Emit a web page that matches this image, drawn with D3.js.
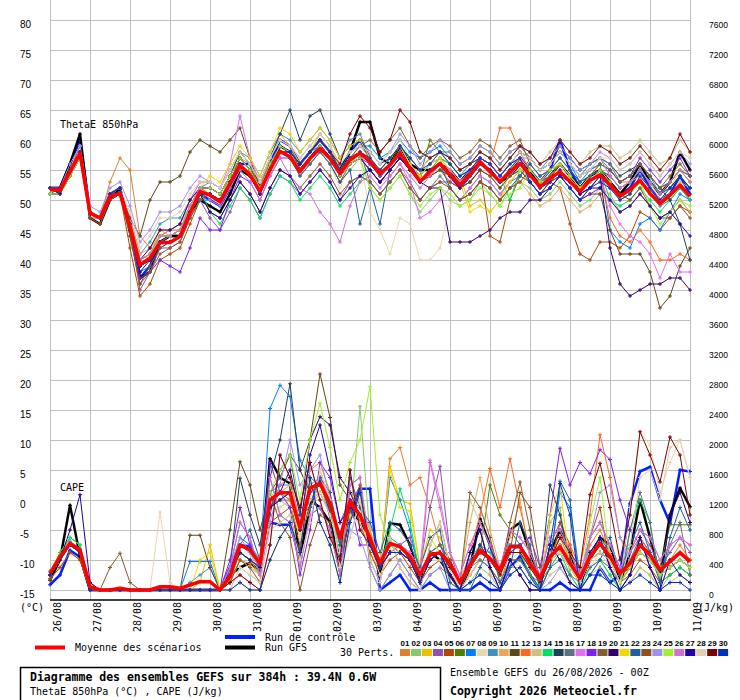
<!DOCTYPE html>
<html>
<head>
<meta charset="utf-8">
<script src="https://cdn.jsdelivr.net/npm/d3@7"></script>
<style>
  body { margin: 0; background: #fff; }
  svg text { font-family: "DejaVu Sans Mono", monospace; fill: #000; }
</style>
</head>
<body>
<svg id="chart" width="740" height="700"></svg>
<script>
// 65 steps of 6h from 26/08 00Z (384h)
const dayLabels = ['26/08','27/08','28/08','29/08','30/08','31/08','01/09','02/09','03/09',
  '04/09','05/09','06/09','07/09','08/09','09/09','10/09','11/09'];
const leftTicks = [-15,-10,-5,0,5,10,15,20,25,30,35,40,45,50,55,60,65,70,75,80];
const rightTicks = [0,400,800,1200,1600,2000,2400,2800,3200,3600,4000,4400,4800,5200,5600,6000,6400,6800,7200,7600];

const pertColors = ['#e08030','#88c870','#f0c000','#9050b0','#b04808','#508000','#0080ff','#e8d8b0',
  '#4090c0','#e8a858','#604818','#ff6820','#d0c080','#00e060','#204058','#607080','#e070f0','#8020f0',
  '#806030','#300070','#f0d800','#2060a0','#905020','#a090f0','#a0f030','#d070d0','#2000a0','#e0d0b0',
  '#800000','#0030c0'];

// ThetaE 850hPa (°C)
const thetaMean = [51.7,51.6,54.7,57.8,47.8,47.0,50.6,51.1, 45.6,39.2,40.3,42.9,42.9,43.9,47.8,51.4,
  50.8,49.7,52.8,55.8,54.2,51.4,55.0,58.1, 57.2,54.7,56.9,58.6,56.9,54.4,56.7,57.8,
  56.4,54.4,55.8,57.8,55.3,53.1,54.7,56.1, 54.2,52.5,54.2,56.4,54.7,53.1,54.7,56.1,
  54.2,52.2,53.6,54.7,53.1,51.4,53.3,54.2, 52.5,50.6,51.7,53.3,51.1,49.4,50.8,52.5, 50.6];
const thetaCtrl = [52,52,56,60,48,47,51,52, 45,37,39,43,44,44,48,51, 50,49,52,56,56,52,56,60,
  59,56,58,60,58,55,58,60, 57,54,56,59,56,53,55,56, 54,52,54,56,55,53,55,57,
  55,53,55,60,55,52,54,55, 53,51,52,55,52,50,51,54, 51];
const thetaGfs = [52,52,56,61,47,46,50,52, 45,37,38,43,44,44,48,50, 49,48,51,55,54,52,55,59,
  58,55,57,59,57,55,58,63, 63,57,56,59,56,55,55,56, 55,53,55,56,55,53,54,56,
  55,52,54,56,54,52,54,55, 53,51,53,56,53,51,53,58, 55];

const thetaPerts = [
  [52,52,55,58,48,47,53,57, 55,44,42,44,45,45,49,52, 52,51,54,57,56,53,56,59, 58,56,58,60,58,55,57,59, 57,55,57,59,56,54,56,57, 55,53,54,56,55,53,55,57, 55,53,55,56,54,52,54,56, 55,53,53,55,53,51,53,55, 53],
  [51,51,54,57,48,47,51,52, 47,40,41,44,45,46,49,52, 51,50,54,57,55,52,56,58, 57,55,56,58,56,53,55,57, 52,50,52,54,51,48,50,52, 50,49,50,53,51,49,52,53, 52,50,51,53,51,49,50,52, 51,48,49,51,49,47,48,50, 48],
  [52,51,55,59,48,47,51,52, 46,39,41,45,44,45,49,52, 52,51,54,58,56,52,57,61, 59,56,58,61,59,55,57,58, 56,55,57,59,56,54,56,57, 56,54,49,50,48,50,55,57, 55,53,54,56,54,52,53,55, 54,52,53,54,52,50,51,53, 52],
  [52,51,55,59,48,47,51,52, 45,35,38,42,42,43,47,50, 47,45,48,52,50,47,51,54, 53,51,53,55,53,50,53,54, 53,51,53,55,52,50,52,53, 53,52,53,55,54,52,54,55, 53,51,53,54,52,50,52,54, 52,50,51,53,51,49,50,52, 50],
  [52,52,54,57,47,47,50,51, 42,34,36,40,41,42,46,50, 51,50,53,56,54,51,55,58, 57,54,56,58,56,53,56,57, 55,53,55,57,55,53,54,55, 53,52,53,55,44,43,50,54, 53,51,53,52,46,41,40,43, 43,42,44,48,47,45,47,49, 48],
  [51,51,54,57,48,47,51,51, 46,40,41,44,44,45,49,52, 52,51,54,57,55,53,56,59, 58,56,58,60,58,55,57,58, 57,54,56,59,56,54,60,58, 58,56,57,59,58,56,58,59, 57,55,56,58,56,54,55,56, 55,53,54,56,54,52,53,55, 54],
  [51,52,55,58,48,47,50,51, 45,38,39,42,43,44,47,50, 50,49,53,56,54,51,55,58, 58,56,58,59,57,55,58,59, 59,57,58,60,58,57,58,59, 57,55,56,57,56,54,56,58, 57,55,56,58,56,53,55,56, 45,43,42,46,47,45,48,51, 50],
  [51,51,54,57,48,47,51,51, 46,40,41,44,44,45,49,52, 52,51,54,57,55,52,55,58, 57,54,56,58,56,52,56,57, 48,45,41,47,46,40,40,42, 49,52,54,56,54,52,54,56, 54,52,54,56,53,51,53,55, 54,52,53,55,53,50,52,54, 52],
  [52,52,55,58,48,47,51,52, 47,41,43,46,47,47,50,52, 53,52,55,58,57,54,58,61, 60,58,60,62,60,57,60,61, 57,55,57,59,56,54,56,57, 56,54,56,58,57,55,57,59, 57,55,57,59,57,55,56,57, 55,53,54,56,54,51,52,54, 52],
  [52,52,55,57,48,47,51,52, 47,41,42,45,45,46,50,53, 53,52,55,58,56,53,57,60, 59,56,58,60,58,55,57,58, 56,54,56,58,55,53,55,57, 52,50,51,53,52,50,52,53, 51,49,50,52,50,48,49,51, 50,48,49,51,49,47,48,50, 48],
  [51,51,54,57,48,47,51,51, 47,44,50,53,53,54,58,60, 59,58,60,62,57,52,56,59, 58,55,57,59,57,54,56,57, 55,53,55,57,55,53,54,55, 54,52,53,55,54,52,54,55, 53,51,53,54,52,50,51,51, 45,41,41,41,38,32,34,39, 42],
  [52,52,55,58,48,47,51,52, 46,40,41,43,44,45,49,52, 51,50,53,56,54,51,55,58, 57,55,57,59,57,54,56,58, 56,54,56,58,55,53,55,56, 55,53,55,57,56,62,62,58, 55,53,55,56,54,52,53,54, 47,44,43,45,43,40,40,41, 40],
  [51,51,54,58,48,47,51,52, 46,40,41,44,44,45,49,52, 52,51,54,57,55,52,56,59, 58,56,58,60,58,55,57,58, 57,55,57,59,57,55,57,58, 56,54,55,57,56,54,56,57, 58,56,58,60,58,56,58,59, 59,57,58,60,58,56,57,60, 58],
  [52,52,55,58,48,47,51,52, 46,39,40,44,44,45,49,52, 48,46,49,52,50,47,51,54, 53,50,52,54,52,49,51,53, 56,54,56,58,55,53,55,57, 56,54,55,57,56,54,50,55, 55,53,54,56,54,52,53,55, 50,49,50,52,50,48,50,52, 50],
  [52,52,55,58,48,47,51,52, 46,40,41,44,44,45,49,52, 52,51,54,58,56,53,57,61, 65,60,64,65,61,57,59,60, 58,56,57,59,57,55,57,58, 57,55,56,57,56,54,56,58, 57,55,56,59,57,55,56,57, 56,54,55,56,54,52,50,46, 40],
  [52,51,55,58,48,47,51,52, 46,39,40,43,44,45,48,51, 51,50,53,57,55,52,56,59, 58,55,57,59,57,54,57,58, 53,51,53,55,53,50,52,54, 52,50,52,54,53,51,53,54, 57,55,56,58,56,54,56,57, 56,53,54,56,54,52,53,55, 54],
  [52,52,55,58,48,47,51,52, 46,40,41,44,45,46,50,53, 53,52,56,64,57,53,56,59, 58,55,57,59,57,54,56,57, 55,53,54,56,53,47,48,50, 52,50,52,54,53,51,53,55, 54,52,53,55,53,51,52,54, 49,46,44,43,41,37,41,38, 38],
  [52,51,54,57,48,47,50,51, 45,37,38,40,39,38,42,47, 45,45,50,54,53,50,54,57, 57,55,57,59,57,54,56,57, 56,54,56,58,55,53,55,56, 55,53,55,57,56,54,56,57, 53,51,52,54,52,50,51,52, 55,53,54,57,55,53,55,57, 54],
  [51,51,54,57,47,46,50,51, 44,36,38,41,42,43,47,50, 51,50,53,57,55,52,56,59, 58,56,58,60,58,55,57,59, 60,58,60,62,59,57,59,60, 59,57,58,60,59,57,59,60, 56,54,55,57,55,53,54,56, 55,53,54,56,54,52,54,56, 54],
  [52,52,55,58,48,47,51,52, 46,40,42,45,45,46,50,52, 52,51,54,57,55,52,56,59, 58,55,57,59,57,54,56,57, 55,53,55,57,55,53,52,52, 43,43,43,44,45,47,48,48, 50,50,52,54,53,51,52,54, 42,36,34,35,36,36,37,37, 35],
  [52,52,55,58,48,47,51,52, 46,39,41,44,44,45,49,52, 54,53,56,59,57,54,58,62, 61,58,60,62,60,57,59,60, 57,55,57,59,56,54,56,57, 55,53,48,49,48,50,53,55, 54,52,54,56,54,52,54,55, 54,52,53,55,53,51,52,55, 53],
  [51,51,54,58,48,47,51,52, 46,39,40,43,43,44,48,51, 51,50,53,56,54,51,55,58, 57,54,56,58,56,53,55,46, 52,46,55,57,55,53,55,56, 52,50,51,53,52,50,52,54, 56,54,55,57,55,53,54,55, 54,52,53,55,53,51,52,54, 52],
  [52,52,55,58,47,46,50,51, 44,36,39,42,43,44,48,51, 48,47,50,53,51,48,52,55, 54,52,54,56,54,51,53,54, 53,51,53,55,52,50,52,53, 52,50,51,53,52,50,52,53, 55,53,54,56,54,52,53,55, 53,51,50,52,49,47,47,49, 47],
  [52,52,56,59,49,48,52,53, 49,43,45,48,48,49,52,54, 53,52,55,58,56,53,57,60, 59,57,59,61,59,56,58,59, 58,56,58,61,59,56,58,60, 58,56,57,59,58,56,58,59, 58,56,57,59,57,55,56,58, 57,55,56,58,56,54,56,58, 56],
  [51,51,54,57,48,47,51,51, 46,40,41,44,44,45,49,52, 52,51,54,57,55,52,56,59, 58,55,57,59,57,54,56,57, 52,50,52,54,51,49,51,52, 51,49,50,52,51,49,51,52, 55,53,55,56,54,52,53,55, 53,50,51,53,49,46,48,50, 49],
  [52,52,55,58,48,47,51,52, 46,40,41,44,44,45,49,52, 50,49,52,55,53,50,54,57, 54,52,51,48,46,43,49,53, 54,52,54,56,54,52,54,56, 55,53,55,57,56,54,56,57, 57,55,56,58,56,54,55,57, 54,52,53,55,53,51,53,55, 53],
  [52,51,55,58,48,47,51,51, 45,38,40,43,43,44,48,51, 48,47,50,53,51,48,52,55, 54,51,53,55,53,50,52,54, 55,53,55,57,55,53,55,56, 54,52,54,56,55,53,55,56, 54,52,53,55,53,51,52,52, 50,48,49,51,49,47,48,46, 44],
  [52,52,55,58,48,47,51,52, 48,42,44,47,47,48,51,53, 53,52,55,58,56,53,57,60, 59,57,59,61,59,56,58,59, 58,56,58,60,57,55,57,58, 57,55,56,58,57,55,56,58, 57,55,56,58,56,54,55,57, 57,55,56,58,56,54,56,58, 57],
  [52,52,55,58,48,47,51,52, 46,39,40,43,43,44,48,51, 51,50,53,56,54,51,55,58, 58,56,58,60,58,56,61,64, 62,58,60,65,63,58,57,58, 57,55,56,58,57,55,57,59, 58,56,57,60,58,56,57,59, 58,56,57,59,57,55,57,61, 58],
  [52,52,55,58,48,47,51,52, 46,39,40,43,43,44,48,51, 51,50,53,56,54,51,55,58, 58,56,58,60,58,55,57,58, 57,55,57,59,57,55,56,58, 56,54,55,57,56,54,56,57, 53,51,52,54,52,50,52,53, 52,50,51,54,52,50,52,54, 52]
];

// CAPE (J/kg)
const capeMean = [222,444,622,533,44,0,0,22, 0,0,0,44,44,22,67,111, 111,0,178,600,533,355,1200,1298,
  1298,822,1356,1422,1156,689,1178,1000, 689,356,622,578,444,200,467,498, 356,98,333,533,422,267,578,578,
  356,156,444,578,356,156,444,622, 444,222,356,600,467,267,378,498, 378];
const capeCtrl = [70,200,530,440,0,0,0,0, 0,0,0,0,0,0,0,0, 0,0,300,600,580,300,900,870,
  870,450,1100,1500,1000,400,1000,1350, 1350,0,100,200,0,0,100,0, 0,0,0,100,0,0,300,450,
  200,0,0,100,0,0,0,300, 100,200,1150,1580,1640,1200,890,1600, 1580];
const capeGfs = [130,400,1130,450,0,0,0,0, 0,0,0,0,0,0,0,0, 0,0,200,300,360,250,1750,1500,
  1420,400,1200,1100,900,300,1100,900, 700,200,890,870,600,100,500,400, 200,0,300,950,600,200,800,900,
  500,150,500,800,500,100,400,700, 600,100,500,1200,700,200,1000,1360, 1110];

const capePerts = [
  [150,300,500,400,0,0,0,0, 0,0,0,0,0,0,0,0, 0,0,100,400,350,200,1100,1400, 1500,900,1600,1700,1300,700,1300,1200, 800,300,1750,1900,1400,1500,1100,600, 300,0,200,400,300,100,500,600, 300,100,500,700,400,100,600,800, 500,200,300,700,500,200,400,600, 400],
  [200,400,700,600,50,0,0,0, 0,0,0,0,0,0,0,0, 0,0,100,500,400,300,1300,1200, 1100,700,1300,1400,1000,600,900,2450, 700,300,500,600,400,100,400,500, 200,0,100,300,200,0,300,400, 200,0,900,1100,200,0,200,400, 200,0,100,300,200,0,200,300, 200],
  [250,500,700,600,0,0,0,0, 0,0,0,0,0,0,0,100, 600,0,200,500,400,200,1000,1100, 1200,700,1100,1300,1000,500,1200,900, 500,300,1650,1200,1150,300,800,700, 400,100,300,500,400,200,500,600, 300,100,400,600,300,100,400,700, 500,200,300,500,400,200,300,400, 300],
  [200,400,600,500,0,0,0,0, 0,0,0,0,0,0,0,0, 0,0,200,600,500,300,1100,1200, 1300,800,1300,1400,1100,600,1100,1000, 600,300,500,600,700,300,1100,1650, 500,100,300,600,400,200,500,500, 300,100,600,900,500,200,700,900, 600,300,500,800,600,300,500,700, 500],
  [150,300,500,400,0,0,0,0, 0,0,0,0,0,0,0,0, 0,0,100,400,300,200,900,1000, 1100,600,1200,1300,1000,500,1000,900, 500,200,400,500,300,100,300,400, 200,0,200,400,300,100,400,400, 200,0,300,900,600,0,700,1100, 300,100,200,400,300,100,200,300, 200],
  [200,400,600,500,0,0,0,0, 0,0,0,0,0,0,0,0, 0,0,200,500,400,300,1200,1300, 1200,800,1300,1400,1100,700,1100,1000, 700,300,600,600,500,200,500,500, 300,100,300,500,1400,1000,800,600, 400,100,400,600,400,100,400,600, 400,200,300,600,500,300,870,870, 870],
  [200,400,600,500,0,0,0,0, 0,0,0,0,0,0,380,380, 380,0,300,700,600,400,2420,2730, 2580,1730,1500,1400,1100,600,1100,1000, 700,300,1500,1200,800,200,500,600, 300,100,300,600,400,200,600,600, 400,100,400,1300,1100,200,500,700, 500,200,400,700,500,200,400,500, 400],
  [200,400,600,500,0,0,0,0, 0,0,0,1040,100,0,0,0, 0,0,100,400,300,200,1000,1100, 1200,700,1200,1300,1000,500,1000,900, 600,200,500,500,400,100,400,400, 300,0,200,400,300,100,400,500, 300,100,300,500,300,100,300,500, 300,100,1100,2110,1930,1300,1700,2000, 1500],
  [250,450,650,550,50,0,0,0, 0,0,0,0,0,0,100,200, 300,0,200,600,500,300,1300,1400, 1400,900,1400,1500,1200,700,1200,1100, 700,400,700,600,500,200,500,600, 400,100,400,600,500,300,600,600, 400,200,500,600,400,200,500,600, 400,200,400,600,500,300,400,500, 400],
  [200,400,600,500,0,0,0,0, 0,0,0,0,0,0,0,0, 0,0,200,600,500,300,1200,1300, 1400,900,1400,1500,1200,700,1300,1100, 800,400,600,600,500,200,500,500, 400,100,900,1500,800,300,700,1200, 400,200,500,600,400,200,500,600, 500,200,400,600,500,300,400,500, 400],
  [200,400,600,500,0,0,0,0, 0,0,0,0,0,0,730,730, 300,0,800,1710,1400,800,1300,1500, 1800,1600,2000,2880,2300,1400,1200,1100, 700,300,600,500,400,100,400,500, 300,100,300,500,400,200,500,500, 300,100,400,500,300,100,400,500, 400,100,300,500,400,200,300,400, 300],
  [200,400,600,500,0,0,0,0, 0,0,0,0,0,0,0,0, 0,0,200,500,400,300,1100,1200, 1200,800,1300,1400,1100,700,1100,1000, 600,300,500,600,400,200,500,500, 300,100,500,1000,1620,1100,1750,1100, 500,200,400,700,600,300,1000,2070, 1500,700,500,700,500,200,400,500, 400],
  [200,400,600,500,0,0,0,0, 0,0,0,0,0,0,0,0, 0,0,0,300,200,100,800,900, 1000,400,900,1600,1200,300,700,1200, 600,300,500,500,400,100,400,500, 100,0,1200,900,200,100,300,300, 100,0,200,300,100,0,200,300, 100,0,100,300,200,0,100,200, 100],
  [200,500,700,600,0,0,0,0, 0,0,0,0,0,0,0,0, 0,0,200,500,400,300,1100,1200, 1300,800,1300,1400,1100,600,1100,1000, 600,300,800,1350,900,200,500,500, 300,100,300,500,400,200,500,500, 200,0,300,500,200,0,300,400, 200,0,800,1200,900,100,200,300, 200],
  [200,400,600,500,0,0,0,0, 0,0,0,0,0,0,0,0, 0,0,300,1490,1000,600,1500,2000, 2750,1600,1300,1400,1100,700,1200,1000, 700,300,600,600,400,200,500,500, 400,100,300,600,400,200,500,600, 400,100,1400,1000,400,100,400,600, 400,200,300,600,500,200,300,400, 300],
  [200,400,600,500,0,0,0,0, 0,0,0,0,0,0,0,0, 0,0,300,900,700,200,1500,1000, 900,300,1000,1100,800,200,1400,1500, 300,0,200,400,200,0,200,300, 200,0,300,400,300,100,400,400, 200,100,300,400,200,100,300,400, 300,100,800,1300,900,100,600,900, 200],
  [200,400,600,500,0,0,0,0, 0,0,0,0,0,0,0,0, 0,0,100,200,100,0,600,1800, 1500,1100,1700,1200,700,400,1600,800, 600,300,500,600,500,300,1730,1200, 500,200,600,900,600,300,800,700, 500,200,700,800,500,200,700,900, 600,300,500,800,700,400,600,700, 600],
  [200,400,600,500,0,0,0,0, 0,0,0,0,0,0,0,0, 0,0,400,1100,600,300,1700,1300, 1100,200,800,1700,1500,900,1200,600, 600,300,500,500,400,100,400,500, 300,100,300,500,400,200,500,600, 700,300,1000,1890,1400,1700,1550,1870, 1740,1200,800,600,400,200,300,400, 300],
  [200,400,600,500,100,0,300,490, 100,0,0,0,0,0,0,0, 0,0,200,500,400,300,1200,1300, 1300,800,1300,1400,1100,700,1100,1000, 700,300,600,500,400,200,500,600, 400,100,1300,1100,700,200,900,1440, 800,100,400,500,300,100,400,500, 400,200,300,500,400,200,300,400, 300],
  [200,400,600,500,0,0,0,0, 0,0,0,0,0,0,0,0, 0,0,200,500,400,300,1100,1300, 1600,1000,2000,2310,2200,1500,1300,1000, 600,300,500,500,400,100,400,500, 200,0,500,800,300,0,400,200, 0,0,600,400,100,0,500,700, 300,0,200,700,300,0,1000,1300, 900],
  [200,400,600,500,0,0,0,0, 0,0,0,0,0,0,0,400, 500,0,0,100,0,0,400,700, 900,500,1500,900,600,100,900,1300, 600,300,1600,1100,1050,300,700,500, 300,100,300,500,400,200,500,500, 300,100,1000,1400,300,100,400,500, 400,100,300,500,400,200,300,400, 300],
  [200,400,600,500,0,0,0,0, 0,0,0,0,0,0,0,0, 0,0,200,600,800,400,1000,1600, 1800,1000,1100,1500,1300,600,1500,1100, 900,500,900,800,600,300,700,800, 100,0,0,300,600,100,300,900, 600,0,300,1450,1200,0,200,400, 700,200,600,900,500,100,700,1100, 800],
  [200,400,600,500,0,0,0,0, 0,0,0,0,0,0,0,0, 0,0,100,400,300,100,1300,900, 700,0,600,1000,900,200,1100,1400, 400,100,700,300,100,0,600,900, 300,100,300,500,400,200,500,1300, 1100,300,400,500,300,100,400,500, 400,100,300,500,400,200,300,400, 300],
  [200,400,600,500,0,0,0,0, 0,0,0,0,0,0,0,0, 0,0,300,700,500,200,900,1400, 2000,1400,1600,1800,1200,300,800,700, 300,0,200,400,200,0,200,300, 0,0,100,200,100,0,200,300, 100,0,100,300,100,0,700,1300, 1400,700,400,500,400,200,300,400, 300],
  [200,400,600,500,0,0,0,0, 0,0,0,0,0,0,0,0, 0,0,200,500,400,300,1300,1600, 1800,1200,2000,2490,1900,1200,1700,2000, 2710,1000,600,500,400,100,400,500, 300,100,300,500,400,200,500,500, 300,100,400,500,300,100,900,1500, 400,100,300,500,400,200,300,400, 300],
  [200,400,600,500,0,0,0,0, 0,0,0,0,0,0,0,0, 0,0,300,900,700,200,1500,1000, 900,300,1000,1100,800,200,1400,1500, 600,300,500,500,400,100,1700,1100, 500,200,600,900,600,300,800,700, 500,200,700,800,500,200,700,900, 600,300,500,800,700,400,600,700, 600],
  [200,400,800,1270,100,0,0,0, 0,0,0,0,0,0,0,0, 0,0,200,500,400,300,1100,1200, 1300,800,1800,2200,1600,900,1100,1000, 600,300,500,500,400,100,400,500, 200,0,500,800,300,0,400,200, 0,0,600,400,100,0,500,700, 300,0,200,700,300,0,400,200, 100],
  [200,400,600,500,0,0,0,0, 0,0,0,0,0,0,0,0, 0,0,0,300,200,100,800,900, 1000,400,900,1600,1200,300,700,1200, 400,100,700,300,100,0,600,900, 300,100,300,500,400,200,500,500, 300,100,400,500,300,100,400,500, 400,100,600,1500,1600,1200,1900,2000, 1500],
  [200,400,600,500,0,0,0,0, 0,0,0,0,0,0,0,0, 0,0,100,200,100,0,600,1800, 1500,1100,1700,1200,700,400,1600,800, 600,300,500,500,400,100,400,500, 300,100,300,500,400,200,500,500, 300,100,400,700,500,300,1270,1690, 1100,400,1000,2110,1800,1440,2040,1800, 1000],
  [200,400,600,500,0,0,0,0, 0,0,0,0,0,0,0,0, 0,0,0,100,0,0,400,700, 900,500,1500,900,600,100,900,1300, 600,300,500,500,400,100,400,500, 0,0,100,200,100,0,200,300, 100,0,600,1420,1000,0,200,200, 100,0,100,200,100,0,100,100, 0]
];

const svg = d3.select('#chart');

const x = d3.scaleLinear().domain([0, 64]).range([50, 690]);
const yL = d3.scaleLinear().domain([-15, 80]).range([590, 20]);
const yR = d3.scaleLinear().domain([0, 7600]).range([590, 20]);

// grid
const grid = svg.append('g').attr('stroke', '#c0c0c0').attr('stroke-width', 1);
grid.selectAll('line.h')
  .data(leftTicks)
  .join('line')
  .attr('x1', 50).attr('x2', 690)
  .attr('y1', d => Math.round(yL(d)) + 0.5)
  .attr('y2', d => Math.round(yL(d)) + 0.5);
grid.selectAll('line.v')
  .data(dayLabels)
  .join('line')
  .attr('x1', (d, i) => Math.round(x(i * 4)) + 0.5)
  .attr('x2', (d, i) => Math.round(x(i * 4)) + 0.5)
  .attr('y1', 0).attr('y2', 600);

// tick labels
svg.append('g')
  .selectAll('text')
  .data(leftTicks)
  .join('text')
  .attr('x', 20)
  .attr('y', d => yL(d) + 7.5)
  .style('font-family', 'Liberation Sans, Arial, sans-serif')
  .style('font-size', '10px')
  .text(d => d);

svg.append('g')
  .selectAll('text')
  .data(rightTicks)
  .join('text')
  .attr('x', 709)
  .attr('y', d => yR(d) + 7.5)
  .style('font-family', 'Liberation Sans, Arial, sans-serif')
  .style('font-size', '8.5px')
  .text(d => d);

svg.append('line')
  .attr('x1', 50).attr('x2', 691)
  .attr('y1', 600).attr('y2', 600)
  .attr('stroke', '#000').attr('stroke-width', 1.5);

svg.append('g')
  .selectAll('text')
  .data(dayLabels)
  .join('text')
  .attr('transform', (d, i) => `translate(${x(i * 4) + 11},632) rotate(-90)`)
  .style('font-size', '10px')
  .text(d => d);

svg.append('text').attr('x', 20).attr('y', 611).style('font-size', '10px').text('(°C)');
svg.append('text').attr('x', 698).attr('y', 611).style('font-size', '10px').text('(J/kg)');

// series
const lineL = d3.line().x((d, i) => x(i)).y(d => yL(d));
const lineR = d3.line().x((d, i) => x(i)).y(d => yR(d));

function crosses(values, yScale) {
  return values.map((v, i) => {
    const px = x(i), py = yScale(v);
    return `M${px - 2},${py}h4M${px},${py - 2}v4`;
  }).join('');
}

const plot = svg.append('g').attr('fill', 'none');

function drawSeries(values, yScale, line, color, width, marks) {
  plot.append('path')
    .attr('d', line(values))
    .attr('stroke', color)
    .attr('stroke-width', width)
    .attr('stroke-linejoin', 'round');
  if (marks) {
    plot.append('path')
      .attr('d', crosses(values, yScale))
      .attr('stroke', color)
      .attr('stroke-width', 1);
  }
}

// control and GFS runs sit under the perturbations, the mean on top
drawSeries(thetaCtrl, yL, lineL, '#0020ff', 2.5, true);
drawSeries(capeCtrl, yR, lineR, '#0020ff', 2.5, true);
drawSeries(thetaGfs, yL, lineL, '#000', 2.5, true);
drawSeries(capeGfs, yR, lineR, '#000', 2.5, true);

thetaPerts.forEach((s, k) => drawSeries(s, yL, lineL, pertColors[k], 1, true));
capePerts.forEach((s, k) => drawSeries(s, yR, lineR, pertColors[k], 1, true));

drawSeries(thetaMean, yL, lineL, '#ff0000', 3.5, false);
drawSeries(capeMean, yR, lineR, '#ff0000', 3.5, false);

svg.append('text').attr('x', 60).attr('y', 128).style('font-size', '10px').text('ThetaE 850hPa');
svg.append('text').attr('x', 60).attr('y', 491).style('font-size', '10px').text('CAPE');

// legend
const legend = svg.append('g');
legend.append('line').attr('x1', 35).attr('x2', 65).attr('y1', 647.5).attr('y2', 647.5)
  .attr('stroke', '#ff0000').attr('stroke-width', 4);
legend.append('text').attr('x', 75).attr('y', 651).style('font-size', '10px').text('Moyenne des scénarios');
legend.append('line').attr('x1', 225).attr('x2', 255).attr('y1', 637).attr('y2', 637)
  .attr('stroke', '#0020ff').attr('stroke-width', 4);
legend.append('text').attr('x', 265).attr('y', 641).style('font-size', '10px').text('Run de contrôle');
legend.append('line').attr('x1', 225).attr('x2', 255).attr('y1', 647.5).attr('y2', 647.5)
  .attr('stroke', '#000').attr('stroke-width', 4);
legend.append('text').attr('x', 265).attr('y', 651).style('font-size', '10px').text('Run GFS');
legend.append('text').attr('x', 340).attr('y', 656).style('font-size', '10px').text('30 Perts.');

const sw = legend.selectAll('g.sw')
  .data(pertColors)
  .join('g')
  .attr('transform', (d, i) => `translate(${400 + i * 10.97},0)`);
sw.append('rect').attr('x', 0).attr('y', 649).attr('width', 10).attr('height', 7).attr('fill', d => d);
sw.append('text')
  .attr('x', 5).attr('y', 646)
  .attr('text-anchor', 'middle')
  .style('font-family', 'Liberation Sans, Arial, sans-serif')
  .style('font-size', '8px')
  .style('font-weight', 'bold')
  .text((d, i) => String(i + 1).padStart(2, '0'));

// footer
svg.append('rect').attr('x', 20.5).attr('y', 667.5).attr('width', 420).attr('height', 40)
  .attr('fill', 'none').attr('stroke', '#000').attr('stroke-width', 1.5);
svg.append('text').attr('x', 30).attr('y', 681)
  .style('font-size', '11.5px').style('font-weight', 'bold')
  .text('Diagramme des ensembles GEFS sur 384h : 39.4N 0.6W');
svg.append('text').attr('x', 30).attr('y', 695).style('font-size', '10px')
  .text('ThetaE 850hPa (°C) , CAPE (J/kg)');
svg.append('text').attr('x', 450).attr('y', 676).style('font-size', '10px')
  .text('Ensemble GEFS du 26/08/2026 - 00Z');
svg.append('text').attr('x', 450).attr('y', 695)
  .style('font-size', '11.5px').style('font-weight', 'bold')
  .text('Copyright 2026 Meteociel.fr');
</script>
</body>
</html>
